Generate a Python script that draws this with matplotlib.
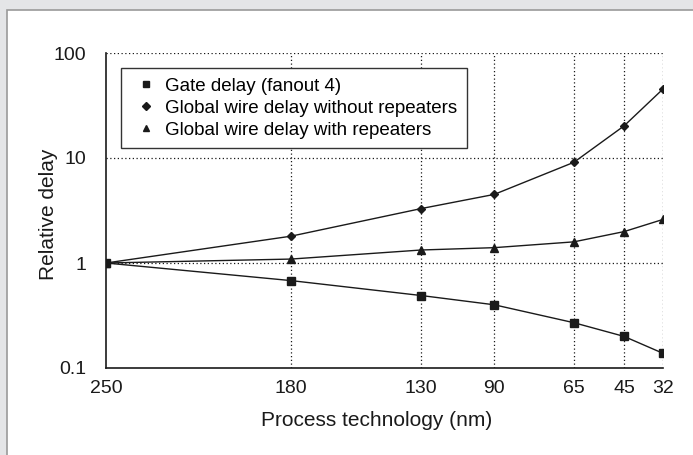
#!/usr/bin/env python3
"""Relative delay vs process technology node."""

import matplotlib
matplotlib.use('Agg')
import matplotlib.pyplot as plt
from matplotlib.lines import Line2D
from matplotlib.patches import Rectangle

plt.rcParams['font.family'] = ['Liberation Sans', 'DejaVu Sans']

# Data
nodes = ['250', '180', '130', '90', '65', '45', '32']
# horizontal placement of each node along the axis (0..100)
node_pos = [0, 33.2, 56.6, 69.7, 84.0, 93.0, 100]

gate_delay = [1.0, 0.68, 0.49, 0.40, 0.27, 0.20, 0.138]
wire_no_rep = [1.0, 1.8, 3.3, 4.5, 9.1, 20.2, 45.4]
wire_rep = [1.0, 1.09, 1.33, 1.40, 1.59, 1.99, 2.6]

labels = ['Gate delay (fanout 4)',
          'Global wire delay without repeaters',
          'Global wire delay with repeaters']

ink = '#1a1a1a'

fig = plt.figure(figsize=(6.93, 4.55), dpi=100)
fig.patch.set_facecolor('#e4e5e7')
# white panel behind the chart
fig.patches.append(Rectangle((7 / 693, -0.05), 1.0, 1 - 10 / 455 + 0.05,
                             transform=fig.transFigure, facecolor='white',
                             edgecolor='#9a9a9a', linewidth=1.2, zorder=-5))

ax = fig.add_axes([106 / 693, 1 - 368 / 455, 557 / 693, 315 / 455])
ax.set_facecolor('none')

dot = (0, (1, 2))
ax.plot(node_pos, gate_delay, color=ink, lw=1.0, marker='s', ms=5.5, zorder=3)
ax.plot(node_pos, wire_no_rep, color=ink, lw=1.0, marker='D', ms=4.2, zorder=3)
ax.plot(node_pos, wire_rep, color=ink, lw=1.0, marker='^', ms=5.5, zorder=3)

ax.set_yscale('log')
ax.set_ylim(0.1, 100)
ax.set_xlim(node_pos[0], node_pos[-1])
ax.set_yticks([0.1, 1, 10, 100])
ax.set_yticklabels(['0.1', '1', '10', '100'])
ax.minorticks_off()
ax.set_xticks(node_pos)
ax.set_xticklabels(nodes)
ax.tick_params(axis='both', length=0, labelsize=14, colors=ink)
ax.tick_params(axis='y', pad=14)
ax.tick_params(axis='x', pad=8.5)

# dotted grid
for y in [1, 10, 100]:
    ax.axhline(y, color=ink, lw=0.9, ls=dot, zorder=1)
for x in node_pos[1:]:
    ax.axvline(x, color=ink, lw=0.9, ls=dot, zorder=1)

ax.spines['top'].set_visible(False)
ax.spines['right'].set_visible(False)
for side in ['left', 'bottom']:
    ax.spines[side].set_color(ink)
    ax.spines[side].set_linewidth(1.2)

ax.set_ylabel('Relative delay', fontsize=15, color=ink)
ax.set_xlabel('Process technology (nm)', fontsize=15, color=ink)
ax.yaxis.set_label_coords(-0.087, 0.489)
ax.xaxis.set_label_coords(0.485, -0.137)

handles = [
    Line2D([], [], color=ink, marker='s', ls='none', ms=4.5),
    Line2D([], [], color=ink, marker='D', ls='none', ms=3.8),
    Line2D([], [], color=ink, marker='^', ls='none', ms=5),
]
leg = ax.legend(handles, labels, loc='upper left', bbox_to_anchor=(0.027, 0.952),
                borderaxespad=0, fontsize=13.5, fancybox=False, framealpha=1,
                edgecolor='#333333', labelspacing=0.27, handlelength=1.67,
                handletextpad=0.2, borderpad=0.5)
leg.get_frame().set_linewidth(1.0)
leg.set_zorder(5)

fig.savefig('out.png', dpi=100, facecolor=fig.get_facecolor())
